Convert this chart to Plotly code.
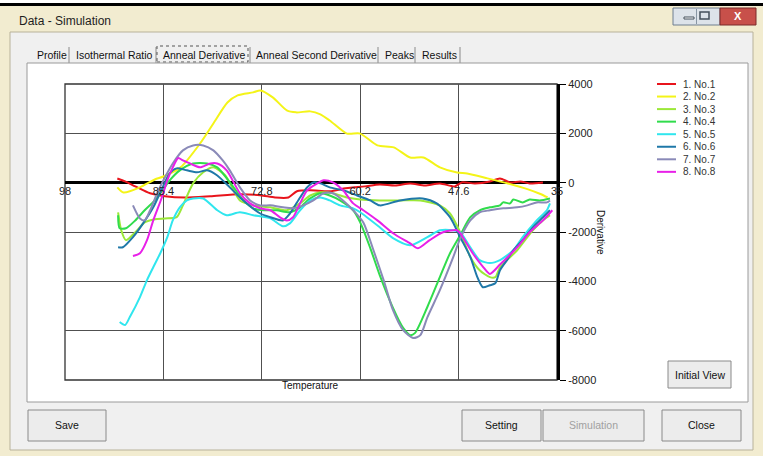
import plotly.graph_objects as go

# ---------------- data ----------------
x_ticks = [98, 85.4, 72.8, 60.2, 47.6, 35]
x_tick_labels = ["98", "85.4", "72.8", "60.2", "47.6", "35"]
y_ticks = [4000, 2000, 0, -2000, -4000, -6000, -8000]
y_tick_labels = ["4000", "2000", "0", "-2000", "-4000", "-6000", "-8000"]

series_names = ["1. No.1", "2. No.2", "3. No.3", "4. No.4", "5. No.5", "6. No.6", "7. No.7", "8. No.8"]
series_colors = ["#e8141c", "#f4f418", "#9be838", "#30dc4c", "#30e6ee", "#1f78a8", "#8a8ab8", "#e820e8"]

temp_no1 = [91.3, 90.3, 89.0, 87.1, 85.2, 82.6, 79.4, 75.6, 73.0, 71.1, 69.4, 68.3, 66.6, 64.1, 62.1, 60.9, 59.6, 57.7, 55.7, 53.8, 51.9, 50.0, 48.1, 47.2, 45.5, 43.6, 42.3, 41.0, 39.7, 38.5, 36.8]
deriv_no1 = [170, 50, -150, -430, -550, -600, -550, -470, -510, -600, -600, -350, -310, -350, -230, -190, -150, -70, -110, -30, -110, -30, -150, 10, -30, 50, 170, 10, 50, -30, 10]

temp_no2 = [91.3, 90.5, 88.4, 86.5, 85.4, 83.2, 80.7, 79.0, 77.2, 75.9, 73.9, 73.0, 71.4, 69.6, 68.4, 66.6, 65.3, 64.1, 61.9, 60.2, 58.0, 55.9, 53.8, 52.1, 50.0, 47.8, 46.5, 43.9, 41.3, 38.7, 37.2, 36.2]
deriv_no2 = [-190, -400, -190, 130, 250, 620, 1590, 2400, 3250, 3540, 3660, 3740, 3460, 2930, 2850, 2890, 2770, 2520, 1990, 1990, 1510, 1430, 1020, 1020, 620, 410, 370, 175, -30, -270, -450, -600]

temp_no3 = [91.2, 90.8, 90.2, 89.0, 87.8, 86.5, 85.2, 83.7, 82.9, 81.6, 80.3, 79.0, 77.5, 75.6, 73.9, 71.7, 69.6, 67.9, 66.6, 65.3, 63.7, 61.9, 60.2, 57.7, 55.1, 52.5, 50.0, 48.7, 47.4, 46.1, 44.9, 43.6, 42.9, 42.3, 40.1, 38.1, 36.8, 35.9]
deriv_no3 = [-1200, -1930, -2330, -2010, -1610, -1480, -1450, -1400, -920, -30, 420, 620, 300, -720, -920, -1000, -1120, -840, -520, -390, -430, -600, -680, -720, -720, -720, -920, -1250, -2010, -3010, -3550, -3830, -3830, -3430, -2740, -1930, -1530, -1320]

temp_no4 = [91.2, 91.0, 90.2, 89.0, 87.8, 86.5, 85.5, 84.6, 83.3, 81.6, 79.8, 78.5, 76.5, 75.2, 73.9, 72.6, 70.9, 69.2, 67.9, 66.6, 65.3, 64.1, 62.8, 61.1, 60.2, 58.9, 57.7, 56.0, 54.7, 53.8, 53.2, 51.6, 50.0, 48.7, 47.4, 46.1, 44.9, 43.6, 42.3, 41.9, 41.0, 40.6, 39.4, 38.5, 37.2, 35.9]
deriv_no4 = [-1320, -1850, -1850, -1530, -1120, -720, -310, 95, 500, 780, 780, 620, -150, -700, -1040, -1120, -1120, -1200, -1000, -640, -430, -520, -720, -1120, -1610, -2660, -3750, -5080, -5890, -6180, -6100, -5040, -3830, -2860, -2130, -1400, -1120, -1000, -920, -800, -840, -680, -800, -680, -720, -640]

temp_no5 = [91.0, 90.3, 89.7, 88.4, 87.5, 86.7, 85.8, 84.9, 84.2, 83.3, 82.4, 81.6, 80.3, 78.5, 77.3, 75.6, 73.9, 71.7, 70.1, 69.2, 67.9, 66.6, 65.3, 64.1, 62.8, 61.1, 60.2, 57.7, 56.0, 53.8, 51.6, 50.0, 48.3, 47.4, 46.1, 44.9, 43.6, 42.3, 40.6, 39.4, 37.6, 36.3, 35.9]
deriv_no5 = [-5650, -5770, -5450, -4640, -3950, -3430, -2860, -2210, -1530, -1000, -720, -640, -640, -1120, -1320, -1200, -1320, -1450, -1770, -1650, -1120, -720, -600, -720, -920, -1040, -1200, -1810, -2250, -2540, -2210, -1930, -1930, -2010, -2620, -3140, -3260, -3140, -2740, -2210, -1530, -1120, -840]

temp_no6 = [91.2, 90.6, 89.3, 88.0, 86.7, 85.5, 84.6, 83.7, 82.4, 81.1, 79.8, 78.5, 76.9, 75.6, 73.0, 71.7, 70.1, 69.2, 67.9, 67.0, 66.2, 65.3, 64.1, 62.4, 60.6, 58.9, 57.7, 55.1, 52.2, 50.4, 48.7, 47.4, 46.1, 45.2, 44.5, 43.6, 42.9, 42.3, 41.4, 40.6, 39.4, 38.1, 36.8, 35.9]
deriv_no6 = [-2620, -2620, -2210, -1650, -1000, -190, 380, 580, 500, 420, 500, 290, -190, -600, -1250, -1400, -1530, -1250, -600, -190, 10, -30, -190, -310, -520, -720, -920, -720, -640, -840, -1400, -2210, -3010, -3830, -4240, -4160, -4080, -3550, -3140, -2740, -2330, -1810, -1400, -1120]

temp_no7 = [89.3, 88.8, 88.4, 87.8, 87.1, 86.2, 85.2, 84.2, 82.9, 81.6, 80.3, 79.0, 77.8, 76.9, 75.6, 74.3, 73.0, 71.7, 70.1, 68.8, 67.5, 66.2, 64.9, 63.7, 62.4, 61.1, 59.8, 58.5, 57.2, 56.0, 54.7, 53.4, 52.5, 51.6, 50.0, 48.3, 47.4, 46.1, 44.9, 43.6, 41.9, 40.1, 38.8, 37.6, 36.3, 35.9]
deriv_no7 = [-920, -1250, -1450, -1530, -1120, -430, 220, 780, 1310, 1510, 1510, 1310, 900, 500, -190, -720, -920, -920, -1000, -1040, -920, -720, -430, -430, -720, -1120, -1610, -2740, -3950, -5170, -5980, -6300, -6180, -5460, -4360, -3030, -2270, -1530, -1200, -1120, -1040, -1000, -920, -800, -800, -720]

temp_no8 = [89.3, 88.4, 87.5, 86.7, 85.6, 84.9, 84.2, 83.5, 82.9, 82.0, 80.7, 79.4, 78.5, 77.3, 75.6, 74.3, 73.0, 71.7, 70.5, 69.6, 68.8, 67.9, 67.0, 65.7, 64.9, 63.7, 62.4, 61.1, 59.8, 58.0, 56.0, 53.8, 52.8, 51.3, 49.6, 47.8, 47.4, 45.8, 44.5, 43.6, 42.3, 40.1, 38.5, 36.8, 35.6]
deriv_no8 = [-2970, -2860, -2330, -1530, -600, 95, 620, 1000, 900, 780, 620, 780, 780, 500, -430, -840, -1040, -1120, -1400, -1530, -1400, -840, -310, -30, 95, 10, -310, -840, -1120, -1530, -2050, -2460, -2660, -2330, -2010, -1930, -2050, -2860, -3400, -3700, -3320, -2620, -2010, -1530, -1120]

temps = [temp_no1, temp_no2, temp_no3, temp_no4, temp_no5, temp_no6, temp_no7, temp_no8]
derivs = [deriv_no1, deriv_no2, deriv_no3, deriv_no4, deriv_no5, deriv_no6, deriv_no7, deriv_no8]

# ---------------- geometry helpers (pixels -> paper) ----------------
W, H = 763, 456
ML, MR, MT, MB = 65, 206, 84, 76
PW = W - ML - MR
PH = H - MT - MB


def px(x):
    return (x - ML) / PW


def py(y):
    return (H - MB - y) / PH


FONT = "Liberation Sans, Arial, sans-serif"
shapes = []
annotations = []


def rect(x0, y0, x1, y1, fill, line=None, lw=1, layer="below", dash=None):
    d = dict(type="rect", xref="paper", yref="paper",
             x0=px(x0), x1=px(x1), y0=py(y1), y1=py(y0),
             fillcolor=fill, layer=layer,
             line=dict(color=line if line else "rgba(0,0,0,0)", width=lw if line else 0))
    if dash:
        d["line"]["dash"] = dash
    shapes.append(d)


def hline(x0, x1, y, color, lw=1, layer="below"):
    shapes.append(dict(type="line", xref="paper", yref="paper", x0=px(x0), x1=px(x1),
                       y0=py(y), y1=py(y), line=dict(color=color, width=lw), layer=layer))


def vline(x, y0, y1, color, lw=1, layer="below"):
    shapes.append(dict(type="line", xref="paper", yref="paper", x0=px(x), x1=px(x),
                       y0=py(y0), y1=py(y1), line=dict(color=color, width=lw), layer=layer))


def text(x, y, s, size=11, color="#222", xanchor="center", angle=0, bold=False):
    annotations.append(dict(xref="paper", yref="paper", x=px(x), y=py(y), text=("<b>%s</b>" % s) if bold else s,
                            showarrow=False, xanchor=xanchor, yanchor="middle", textangle=angle,
                            font=dict(family=FONT, size=size, color=color)))


# ---------------- window chrome ----------------
rect(0, 0, 763, 3, "#ffffff")
rect(0, 3, 763, 6, "#000000")
rect(10, 32, 753, 450, "#f0f0f0", line="#b8b29a")
text(17, 21, "Data - Simulation", size=12, color="#1e1e1e", xanchor="left")
# caption buttons
rect(673, 8, 720, 25, "#dde3ea", line="#6f7f90")
rect(684, 17, 694, 19, "#ffffff", line="#44505c", lw=1)
rect(700, 12, 709, 19, "rgba(0,0,0,0)", line="#44505c", lw=1.5)
vline(696.5, 9, 24, "#8896a4")
rect(720, 8, 756, 25, "#c8504a", line="#7a2a2a")
text(738, 16, "X", size=11, color="#ffffff", bold=True)
# tab strip
tab_labels = [("Profile", 35), ("Isothermal Ratio", 74), ("Anneal Derivative", 161),
              ("Anneal Second Derivative", 254), ("Peaks", 383), ("Results", 420)]
for label, x0 in tab_labels:
    text(x0, 55, label, size=10.5, color="#111", xanchor="left")
for xs in [69, 156, 250, 378, 415, 460]:
    vline(xs, 47, 63, "#8a8a8a")
rect(157, 46, 248, 62, "rgba(0,0,0,0)", line="#555555", lw=1, dash="dot")
# tab page
rect(27, 63, 748, 402, "#ffffff", line="#9a9a9a")
# buttons
for (x0, x1, label, col) in [(28, 106, "Save", "#111"), (462, 541, "Setting", "#111"),
                             (543, 644, "Simulation", "#a0a0a0"), (662, 741, "Close", "#111")]:
    rect(x0, 410, x1, 441, "#ececec", line="#8a8a8a")
    text((x0 + x1) / 2, 425, label, size=10.5, color=col)
rect(668, 361, 731, 388, "#ececec", line="#8a8a8a")
text(699.5, 374.5, "Initial View", size=10.5, color="#111")

# plot frame
rect(65, 84, 557, 380, "rgba(0,0,0,0)", line="#333333", lw=1.3)

# axis titles
text(310, 385, "Temperature", size=10, color="#111")
text(601, 232, "Derivative", size=10, color="#111", angle=90)

# custom compact legend
for i, (name, col) in enumerate(zip(series_names, series_colors)):
    yy = 84 + 12.55 * i
    hline(657, 676, yy, col, lw=2, layer="above")
    text(681, yy, name, size=10, color="#333", xanchor="left")

# ---------------- traces ----------------
fig = go.Figure()
for name, col, t, d in zip(series_names, series_colors, temps, derivs):
    fig.add_trace(go.Scatter(x=t, y=d, name=name, mode="lines",
                             line=dict(color=col, width=2, shape="spline", smoothing=0.7),
                             hoverinfo="skip", showlegend=False))

fig.update_layout(
    width=W, height=H,
    margin=dict(l=ML, r=MR, t=MT, b=MB, pad=0),
    paper_bgcolor="#f2ecd0",
    plot_bgcolor="#ffffff",
    showlegend=False,
    shapes=shapes,
    annotations=annotations,
    font=dict(family=FONT, size=11, color="#222"),
    xaxis=dict(range=[98, 35], tickvals=x_ticks, ticktext=x_tick_labels,
               anchor="free", position=8 / 12, showline=False, ticks="",
               showgrid=True, gridcolor="#505050", gridwidth=1, zeroline=False,
               tickfont=dict(family=FONT, size=11, color="#222")),
    yaxis=dict(range=[-8000, 4000], tickvals=y_ticks, ticktext=y_tick_labels,
               side="right", showline=True, linewidth=3, linecolor="#000000",
               ticks="outside", ticklen=6, tickcolor="#000000", tickwidth=1,
               showgrid=True, gridcolor="#505050", gridwidth=1,
               zeroline=True, zerolinecolor="#000000", zerolinewidth=3,
               tickfont=dict(family=FONT, size=11, color="#222")),
)

fig.write_html("out.html", config={"displayModeBar": False},
               post_script="document.body.style.margin='0';document.body.style.overflow='hidden';")
